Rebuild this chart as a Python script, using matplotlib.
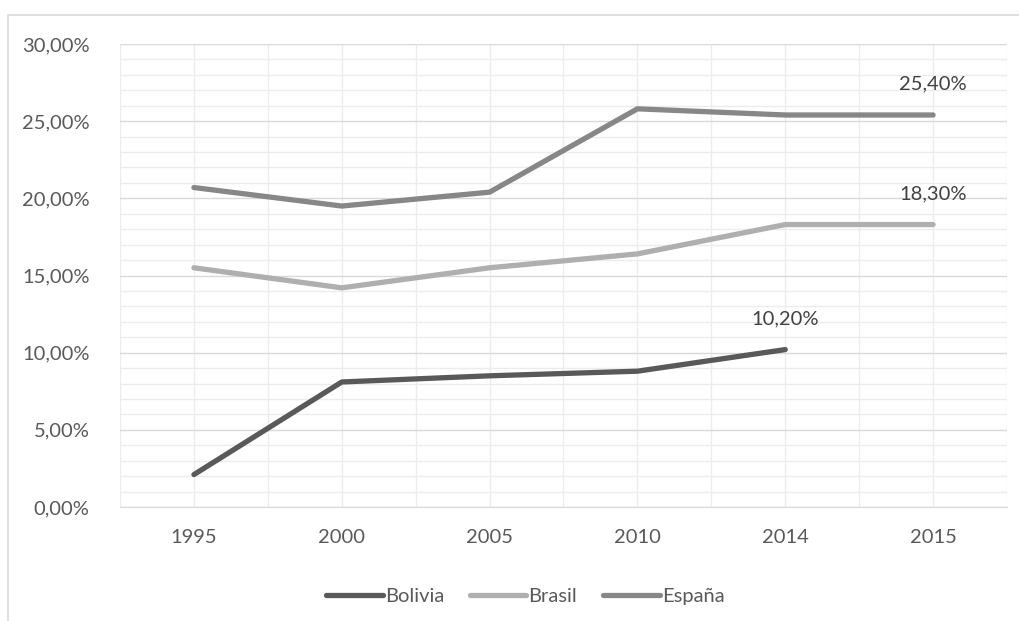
import matplotlib.pyplot as plt
from matplotlib.patches import Rectangle
from matplotlib.ticker import MultipleLocator, FuncFormatter
import numpy as np

years = ["1995", "2000", "2005", "2010", "2014", "2015"]
bolivia = [2.1, 8.1, 8.5, 8.8, 10.2, np.nan]
brasil = [15.5, 14.2, 15.5, 16.4, 18.3, 18.3]
espana = [20.7, 19.5, 20.4, 25.8, 25.4, 25.4]

plt.rcParams['font.family'] = ['Lato', 'DejaVu Sans']
txt = '#595959'
fs = 14.5

fig = plt.figure(figsize=(10.2, 6.21), dpi=100)
ax = fig.add_axes([120/1020, 114/621, 887/1020, 463/621])

# outer chart border
fig.patches.append(Rectangle((8/1020, -0.1), 1.1, 1.1 - 15/621, transform=fig.transFigure,
                             fill=False, edgecolor='#d9d9d9', linewidth=1.2))

x = np.arange(len(years))
kw = dict(lw=3.8, solid_capstyle='round', solid_joinstyle='round', zorder=3)
ax.plot(x, bolivia, color='#595959', label='Bolivia', **kw)
ax.plot(x, brasil, color='#afafaf', label='Brasil', **kw)
ax.plot(x, espana, color='#878787', label='España', **kw)

ax.set_xlim(-0.5, len(years) - 0.5)
ax.set_ylim(0, 30)
ax.set_xticks(x)
ax.set_xticklabels(years)
ax.xaxis.set_minor_locator(MultipleLocator(0.5))
ax.yaxis.set_major_locator(MultipleLocator(5))
ax.yaxis.set_minor_locator(MultipleLocator(1))
ax.yaxis.set_major_formatter(FuncFormatter(lambda v, p: f"{v:.2f}%".replace('.', ',')))

ax.grid(which='minor', axis='y', color='#ececec', lw=1.0, zorder=0)
ax.grid(which='major', axis='y', color='#d9d9d9', lw=1.0, zorder=1)
ax.grid(which='both', axis='x', color='#ececec', lw=1.0, zorder=0)
ax.set_axisbelow(True)

for s in ['top', 'right', 'left']:
    ax.spines[s].set_visible(False)
ax.spines['bottom'].set_color('#d9d9d9')
ax.tick_params(which='both', length=0)
ax.tick_params(axis='y', pad=22, labelsize=fs, labelcolor=txt)
ax.tick_params(axis='x', pad=16, labelsize=fs, labelcolor=txt)

# data labels at last point
for series in [bolivia, brasil, espana]:
    idx = max(i for i, v in enumerate(series) if not np.isnan(v))
    ax.annotate(f"{series[idx]:.2f}%".replace('.', ','), (x[idx], series[idx]),
                xytext=(0, 16), textcoords='offset points', ha='center', va='bottom',
                fontsize=fs, color='#404040')

ax.legend(loc='upper center', bbox_to_anchor=(0.457, -0.135), ncol=3, frameon=False,
          fontsize=fs, labelcolor=txt, handlelength=2.8, handletextpad=0.1, columnspacing=1.3)

fig.savefig('out.png', dpi=100)
